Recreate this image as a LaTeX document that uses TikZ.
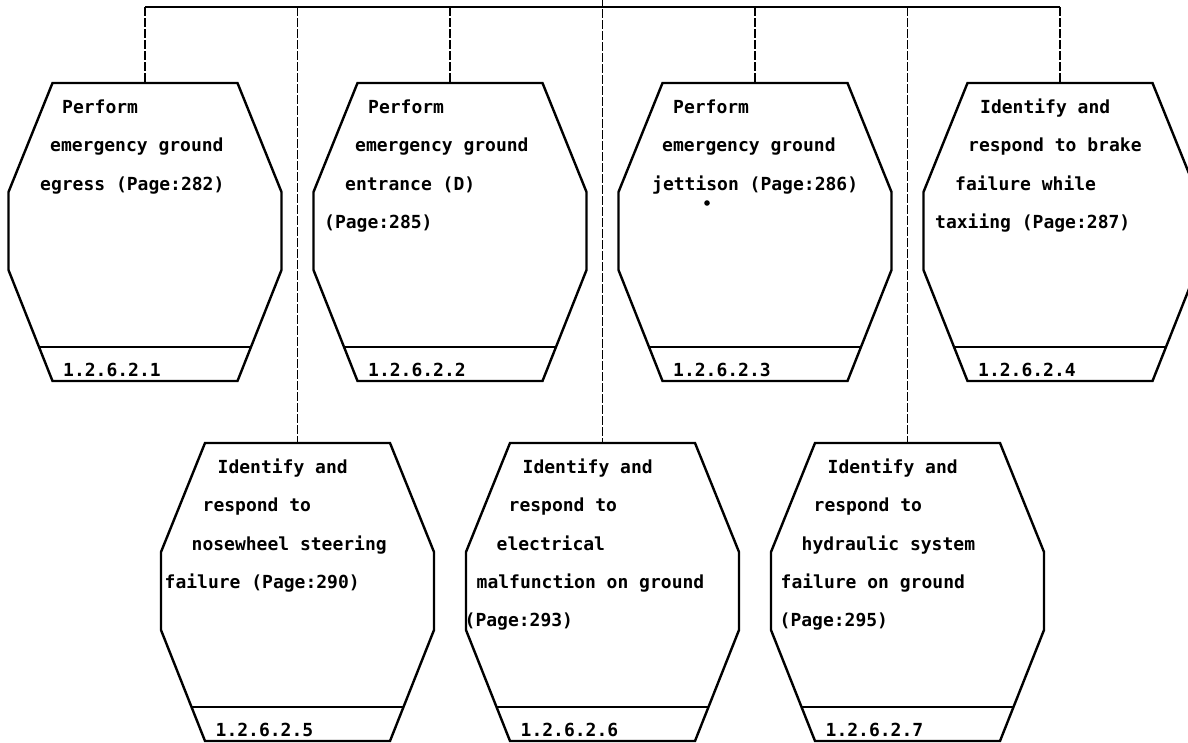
\documentclass[tikz,border=0pt]{standalone}
\usepackage{fontspec}
\setmonofont{DejaVu Sans Mono}
\usetikzlibrary{calc}
\tikzset{
  boxline/.style={line width=2.4pt, line join=miter},
  conn/.style={line width=1.6pt, dash pattern=on 9pt off 2pt},
  busline/.style={line width=2.2pt},
  txt/.style={anchor=base west, inner sep=0pt, font=\ttfamily\bfseries\fontsize{18}{20}\selectfont},
  lbl/.style={anchor=base west, inner sep=0pt, font=\ttfamily\bfseries\fontsize{18}{20}\selectfont}
}
\newcommand\hexbox[4]{%
  \coordinate (#1) at (#2,#3);
  \draw[boxline] ($(#1)+(-92.5,0)$) -- ($(#1)+(92.5,0)$) -- ($(#1)+(136.5,109)$)
     -- ($(#1)+(136.5,187)$) -- ($(#1)+(92.5,298)$) -- ($(#1)+(-92.5,298)$)
     -- ($(#1)+(-136.5,187)$) -- ($(#1)+(-136.5,109)$) -- cycle;
  \draw[boxline] ($(#1)+(-106,264)$) -- ($(#1)+(106,264)$);
  \node[lbl] (#1-id) at ($(#1)+(-82,293)$) {#4};
}
\begin{document}
\begin{tikzpicture}[x=1pt,y=-1pt]
\clip (0,0) rectangle (1188,742);
\fill[white] (0,0) rectangle (1188,742);
% boxes
\hexbox{b1}{145}{83}{1.2.6.2.1}
\hexbox{b2}{450}{83}{1.2.6.2.2}
\hexbox{b3}{755}{83}{1.2.6.2.3}
\hexbox{b4}{1060}{83}{1.2.6.2.4}
\hexbox{b5}{297.5}{443}{1.2.6.2.5}
\hexbox{b6}{602.5}{443}{1.2.6.2.6}
\hexbox{b7}{907.5}{443}{1.2.6.2.7}
% bus
\coordinate (bus) at (602.5,7);
\coordinate (parent) at (602.5,-2);
\draw[busline] (b1 |- bus) -- (b4 |- bus);
\draw[conn] (parent) -- (b6);
\foreach \b in {b1,b2,b3,b4,b5,b7}{\draw[conn] (\b |- bus) -- (\b);}
% box 1 text
\node[txt] (t1a) at ($(b1)+(-83,30)$) {Perform};
\node[txt] (t1b) at ($(b1)+(-95,68.5)$) {emergency ground};
\node[txt] (t1c) at ($(b1)+(-105,107)$) {egress (Page:282)};
% box 2 text
\node[txt] (t2a) at ($(b2)+(-82,30)$) {Perform};
\node[txt] (t2b) at ($(b2)+(-95,68.5)$) {emergency ground};
\node[txt] (t2c) at ($(b2)+(-105,107)$) {entrance (D)};
\node[txt] (t2d) at ($(b2)+(-126,145)$) {(Page:285)};
% box 3 text
\node[txt] (t3a) at ($(b3)+(-82,30)$) {Perform};
\node[txt] (t3b) at ($(b3)+(-93,68.5)$) {emergency ground};
\node[txt] (t3c) at ($(b3)+(-103,107)$) {jettison (Page:286)};
\fill (707,203) circle (2.8);
% box 4 text
\node[txt] (t4a) at ($(b4)+(-80,30)$) {Identify and};
\node[txt] (t4b) at ($(b4)+(-92,68.5)$) {respond to brake};
\node[txt] (t4c) at ($(b4)+(-105,107)$) {failure while};
\node[txt] (t4d) at ($(b4)+(-125,145)$) {taxiing (Page:287)};
% box 5 text
\node[txt] (t5a) at ($(b5)+(-80,30)$) {Identify and};
\node[txt] (t5b) at ($(b5)+(-95,68.5)$) {respond to};
\node[txt] (t5c) at ($(b5)+(-106,107)$) {nosewheel steering};
\node[txt] (t5d) at ($(b5)+(-133,145)$) {failure (Page:290)};
% box 6 text
\node[txt] (t6a) at ($(b6)+(-80,30)$) {Identify and};
\node[txt] (t6b) at ($(b6)+(-94,68.5)$) {respond to};
\node[txt] (t6c) at ($(b6)+(-106,107)$) {electrical};
\node[txt] (t6d) at ($(b6)+(-126,145)$) {malfunction on ground};
\node[txt] (t6e) at ($(b6)+(-138,183.5)$) {(Page:293)};
% box 7 text
\node[txt] (t7a) at ($(b7)+(-80,30)$) {Identify and};
\node[txt] (t7b) at ($(b7)+(-94,68.5)$) {respond to};
\node[txt] (t7c) at ($(b7)+(-106,107)$) {hydraulic system};
\node[txt] (t7d) at ($(b7)+(-127,145)$) {failure on ground};
\node[txt] (t7e) at ($(b7)+(-128,183.5)$) {(Page:295)};
\end{tikzpicture}
\end{document}
